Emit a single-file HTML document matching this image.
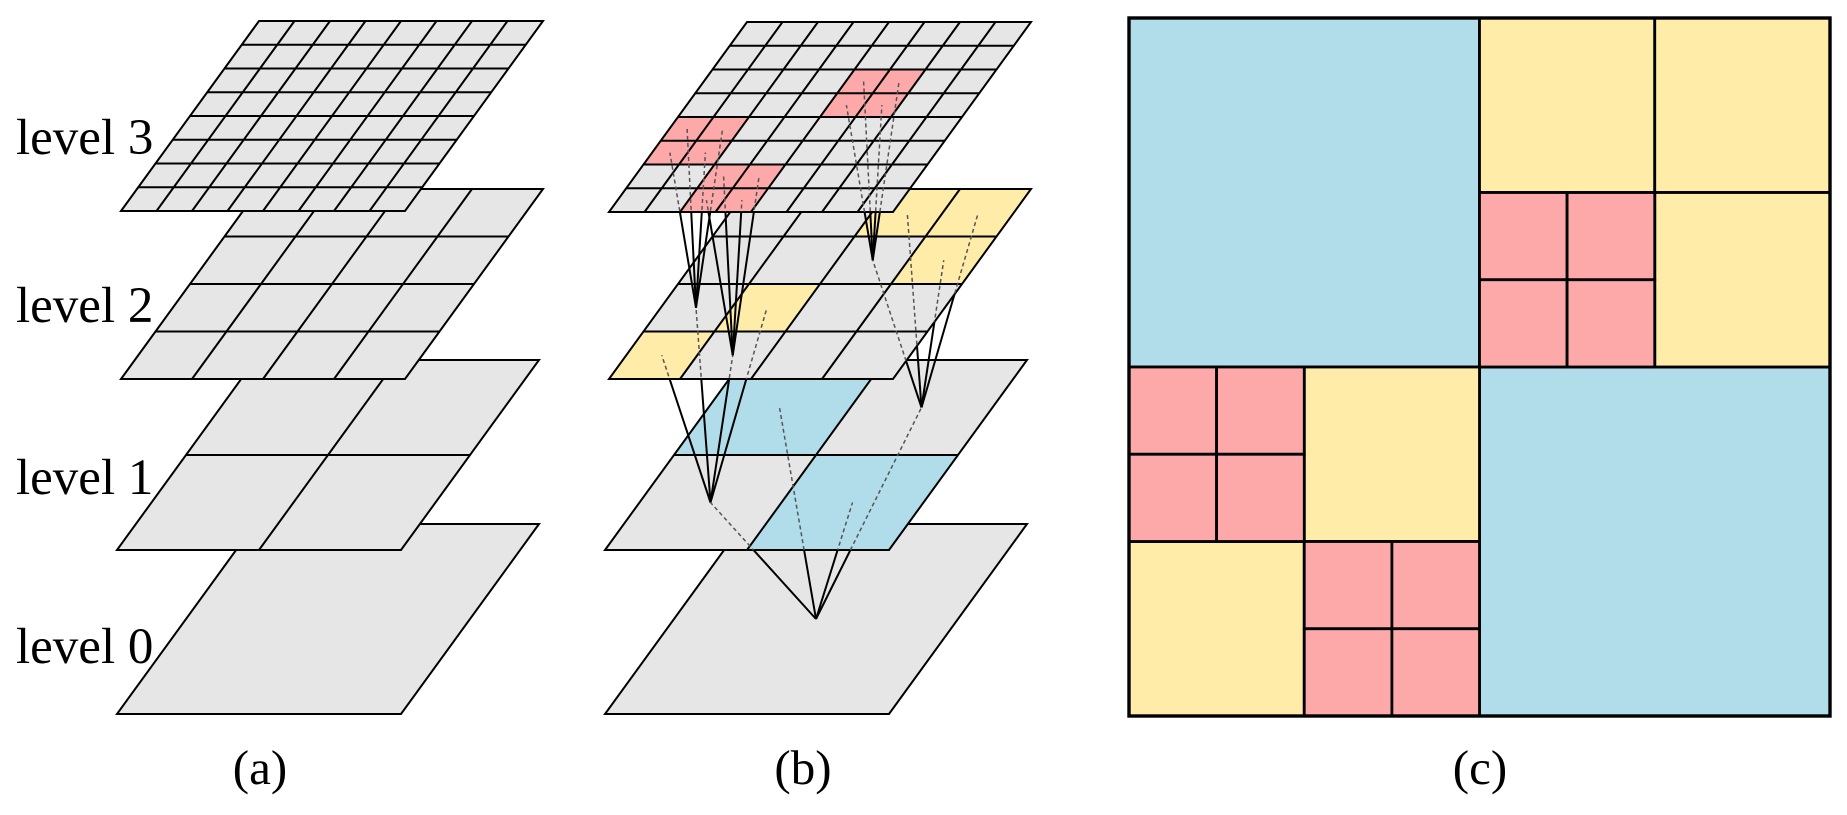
<!DOCTYPE html>
<html><head><meta charset="utf-8"><style>
html,body{margin:0;padding:0;background:#fff;}
svg{display:block}
text{font-family:"Liberation Serif",serif;fill:#000}
</style></head><body>
<svg width="1847" height="815" viewBox="0 0 1847 815" xmlns="http://www.w3.org/2000/svg">
<defs>
  <clipPath id="c3"><polygon points="747,22 1031,22 893,212 609,212"/></clipPath>
  <clipPath id="c23"><polygon points="747,22 1031,22 893,212 609,212"/><polygon points="747,189 1031,189 893,379 609,379"/></clipPath>
  <clipPath id="c123"><polygon points="747,22 1031,22 893,212 609,212"/><polygon points="747,189 1031,189 893,379 609,379"/><polygon points="743,360 1027,360 889,550 605,550"/></clipPath>
  <g id="g1" fill="none" stroke="#000" stroke-width="2">
    <path vector-effect="non-scaling-stroke" d="M0.5 0V1M0 0.5H1"/>
  </g>
  <g id="g2" fill="none" stroke="#000" stroke-width="2">
    <path vector-effect="non-scaling-stroke" d="M0.25 0V1M0.5 0V1M0.75 0V1M0 0.25H1M0 0.5H1M0 0.75H1"/>
  </g>
  <g id="g3" fill="none" stroke="#000" stroke-width="2">
    <path vector-effect="non-scaling-stroke" d="M0.125 0V1M0.25 0V1M0.375 0V1M0.5 0V1M0.625 0V1M0.75 0V1M0.875 0V1M0 0.125H1M0 0.25H1M0 0.375H1M0 0.5H1M0 0.625H1M0 0.75H1M0 0.875H1"/>
  </g>
  <rect id="pl" x="0" y="0" width="1" height="1"/>
  <rect id="bd" x="0" y="0" width="1" height="1" fill="none" stroke="#000" stroke-width="2" vector-effect="non-scaling-stroke"/>
</defs>

<g transform="matrix(284 0 -138 190 255 524)"><use href="#pl" fill="#e6e6e6"/><use href="#bd"/></g>
<g transform="matrix(284 0 -138 190 255 360)"><use href="#pl" fill="#e6e6e6"/><use href="#g1"/><use href="#bd"/></g>
<g transform="matrix(284 0 -138 190 259 189)"><use href="#pl" fill="#e6e6e6"/><use href="#g2"/><use href="#bd"/></g>
<g transform="matrix(284 0 -138 190 259 21)"><use href="#pl" fill="#e6e6e6"/><use href="#g3"/><use href="#bd"/></g>

<text x="16" y="154" font-size="51">level 3</text>
<text x="16" y="322" font-size="51">level 2</text>
<text x="16" y="494" font-size="51">level 1</text>
<text x="16" y="663" font-size="51">level 0</text>
<text x="260" y="784" font-size="49" text-anchor="middle">(a)</text>

<g transform="matrix(284 0 -138 190 743 524)"><use href="#pl" fill="#e6e6e6"/><use href="#bd"/></g>
<g stroke="#000" stroke-width="2" fill="none">
  <line x1="816" y1="619" x2="779.5" y2="407.5"/>
  <line x1="816" y1="619" x2="921.5" y2="407.5"/>
  <line x1="816" y1="619" x2="710.5" y2="502.5"/>
  <line x1="816" y1="619" x2="852.5" y2="502.5"/>
</g>
<g transform="matrix(284 0 -138 190 743 360)"><use href="#pl" fill="#e6e6e6"/>
  <rect x="0" y="0" width="0.5" height="0.5" fill="#b0dde9"/>
  <rect x="0.5" y="0.5" width="0.5" height="0.5" fill="#b0dde9"/>
  <use href="#g1"/><use href="#bd"/></g>
<g stroke="#000" stroke-width="2" fill="none">
  <line x1="921.5" y1="407.5" x2="907.25" y2="212.75"/>
  <line x1="921.5" y1="407.5" x2="978.25" y2="212.75"/>
  <line x1="921.5" y1="407.5" x2="872.75" y2="260.25"/>
  <line x1="921.5" y1="407.5" x2="943.75" y2="260.25"/>
  <line x1="710.5" y1="502.5" x2="696" y2="307.75"/>
  <line x1="710.5" y1="502.5" x2="767" y2="307.75"/>
  <line x1="710.5" y1="502.5" x2="661.75" y2="355.25"/>
  <line x1="710.5" y1="502.5" x2="732.75" y2="355.25"/>
</g>
<g transform="matrix(284 0 -138 190 747 189)"><use href="#pl" fill="#e6e6e6"/>
  <rect x="0.5" y="0" width="0.25" height="0.25" fill="#feeca8"/>
  <rect x="0.75" y="0" width="0.25" height="0.25" fill="#feeca8"/>
  <rect x="0.75" y="0.25" width="0.25" height="0.25" fill="#feeca8"/>
  <rect x="0.25" y="0.5" width="0.25" height="0.25" fill="#feeca8"/>
  <rect x="0" y="0.75" width="0.25" height="0.25" fill="#feeca8"/>
  <use href="#g2"/><use href="#bd"/></g>
<g stroke="#000" stroke-width="2" fill="none">
  <line x1="696" y1="307.75" x2="687.1" y2="128.9"/>
  <line x1="696" y1="307.75" x2="722.6" y2="128.9"/>
  <line x1="696" y1="307.75" x2="669.9" y2="152.6"/>
  <line x1="696" y1="307.75" x2="705.4" y2="152.6"/>
  <line x1="732.75" y1="355.25" x2="723.6" y2="176.4"/>
  <line x1="732.75" y1="355.25" x2="759.1" y2="176.4"/>
  <line x1="732.75" y1="355.25" x2="706.4" y2="200.1"/>
  <line x1="732.75" y1="355.25" x2="741.9" y2="200.1"/>
  <line x1="872.75" y1="260.25" x2="863.6" y2="81.4"/>
  <line x1="872.75" y1="260.25" x2="899.1" y2="81.4"/>
  <line x1="872.75" y1="260.25" x2="846.4" y2="105.1"/>
  <line x1="872.75" y1="260.25" x2="881.9" y2="105.1"/>
</g>
<g transform="matrix(284 0 -138 190 747 22)"><use href="#pl" fill="#e6e6e6"/>
  <rect x="0.5" y="0.25" width="0.25" height="0.25" fill="#fda9aa"/>
  <rect x="0" y="0.5" width="0.25" height="0.25" fill="#fda9aa"/>
  <rect x="0.25" y="0.75" width="0.25" height="0.25" fill="#fda9aa"/>
  <use href="#g3"/><use href="#bd"/></g>

<g stroke="#555" stroke-width="1.5" stroke-dasharray="4 3" fill="none" clip-path="url(#c3)">
  <line x1="696" y1="307.75" x2="687.1" y2="128.9"/>
  <line x1="696" y1="307.75" x2="722.6" y2="128.9"/>
  <line x1="696" y1="307.75" x2="669.9" y2="152.6"/>
  <line x1="696" y1="307.75" x2="705.4" y2="152.6"/>
  <line x1="732.75" y1="355.25" x2="723.6" y2="176.4"/>
  <line x1="732.75" y1="355.25" x2="759.1" y2="176.4"/>
  <line x1="732.75" y1="355.25" x2="706.4" y2="200.1"/>
  <line x1="732.75" y1="355.25" x2="741.9" y2="200.1"/>
  <line x1="872.75" y1="260.25" x2="863.6" y2="81.4"/>
  <line x1="872.75" y1="260.25" x2="899.1" y2="81.4"/>
  <line x1="872.75" y1="260.25" x2="846.4" y2="105.1"/>
  <line x1="872.75" y1="260.25" x2="881.9" y2="105.1"/>
</g>
<g stroke="#555" stroke-width="1.5" stroke-dasharray="4 3" fill="none" clip-path="url(#c23)">
  <line x1="921.5" y1="407.5" x2="907.25" y2="212.75"/>
  <line x1="921.5" y1="407.5" x2="978.25" y2="212.75"/>
  <line x1="921.5" y1="407.5" x2="872.75" y2="260.25"/>
  <line x1="921.5" y1="407.5" x2="943.75" y2="260.25"/>
  <line x1="710.5" y1="502.5" x2="696" y2="307.75"/>
  <line x1="710.5" y1="502.5" x2="767" y2="307.75"/>
  <line x1="710.5" y1="502.5" x2="661.75" y2="355.25"/>
  <line x1="710.5" y1="502.5" x2="732.75" y2="355.25"/>
</g>
<g stroke="#555" stroke-width="1.5" stroke-dasharray="4 3" fill="none" clip-path="url(#c123)">
  <line x1="816" y1="619" x2="779.5" y2="407.5"/>
  <line x1="816" y1="619" x2="921.5" y2="407.5"/>
  <line x1="816" y1="619" x2="710.5" y2="502.5"/>
  <line x1="816" y1="619" x2="852.5" y2="502.5"/>
</g>

<text x="803" y="784" font-size="49" text-anchor="middle">(b)</text>

<g stroke="#000" stroke-width="2.8">
  <rect x="1129" y="18" width="350.5" height="349" fill="#b0dde9"/>
  <rect x="1479.5" y="367" width="350.5" height="349" fill="#b0dde9"/>
  <rect x="1479.5" y="18" width="175.25" height="174.5" fill="#feeca8"/>
  <rect x="1654.75" y="18" width="175.25" height="174.5" fill="#feeca8"/>
  <rect x="1654.75" y="192.5" width="175.25" height="174.5" fill="#feeca8"/>
  <rect x="1479.5" y="192.5" width="87.6" height="87.25" fill="#fda9aa"/>
  <rect x="1567.1" y="192.5" width="87.65" height="87.25" fill="#fda9aa"/>
  <rect x="1479.5" y="279.75" width="87.6" height="87.25" fill="#fda9aa"/>
  <rect x="1567.1" y="279.75" width="87.65" height="87.25" fill="#fda9aa"/>
  <rect x="1304.25" y="367" width="175.25" height="174.5" fill="#feeca8"/>
  <rect x="1129" y="541.5" width="175.25" height="174.5" fill="#feeca8"/>
  <rect x="1129" y="367" width="87.6" height="87.25" fill="#fda9aa"/>
  <rect x="1216.6" y="367" width="87.65" height="87.25" fill="#fda9aa"/>
  <rect x="1129" y="454.25" width="87.6" height="87.25" fill="#fda9aa"/>
  <rect x="1216.6" y="454.25" width="87.65" height="87.25" fill="#fda9aa"/>
  <rect x="1304.25" y="541.5" width="87.65" height="87.25" fill="#fda9aa"/>
  <rect x="1391.9" y="541.5" width="87.6" height="87.25" fill="#fda9aa"/>
  <rect x="1304.25" y="628.75" width="87.65" height="87.25" fill="#fda9aa"/>
  <rect x="1391.9" y="628.75" width="87.6" height="87.25" fill="#fda9aa"/>
  <rect x="1129" y="18" width="701" height="698" fill="none" stroke-width="3.4"/>
</g>
<text x="1480" y="784" font-size="49" text-anchor="middle">(c)</text>
</svg>
</body></html>
